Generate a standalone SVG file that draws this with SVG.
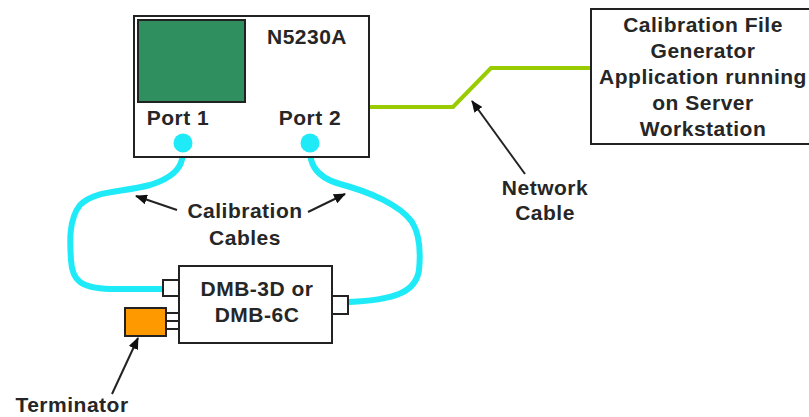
<svg xmlns="http://www.w3.org/2000/svg" width="809" height="417" viewBox="0 0 809 417">
<style>
.box{fill:#fff;stroke:#222;stroke-width:2}
.t{font-family:"Liberation Sans",Arial,sans-serif;font-weight:bold;font-size:21px;fill:#262626;text-anchor:middle;letter-spacing:0.5px}
.cyan{fill:none;stroke:#1eeaf8;stroke-width:6;stroke-linecap:round;stroke-linejoin:round}
.net{fill:none;stroke:#99cc00;stroke-width:4}
.arr{fill:none;stroke:#222;stroke-width:2;marker-end:url(#ah)}
</style>
<defs>
<marker id="ah" markerWidth="12" markerHeight="10" refX="11" refY="5" orient="auto" markerUnits="userSpaceOnUse">
<path d="M0,0 L12,5 L0,10 Z" fill="#111"/>
</marker>
</defs>
<g id="connectors">
<path class="net" d="M370,107 L453,107 L491,68 L592,68"/>
<path class="cyan" d="M183,145 C184,160 182,175 150,185 C120,193 95,190 80,205 C68,220 70,245 71,260 C72,280 80,288 110,289 L164,289"/>
<path class="cyan" d="M310,145 C309,160 312,176 340,184 C370,192 400,205 412,222 C422,238 420,260 419,270 C416,292 395,300 349,302"/>
<path class="arr" d="M525,174 L472,101"/>
<path class="arr" d="M177,210 L136,196"/>
<path class="arr" d="M308,212 L345,194"/>
<path class="arr" d="M112,394 L138,338"/>
</g>
<g id="n5230a">
<rect class="box" x="134" y="16" width="235" height="141"/>
<rect x="138" y="20" width="107" height="82" fill="#2f8f5f" stroke="#222" stroke-width="2"/>
<text class="t" x="307" y="44">N5230A</text>
<text class="t" x="178" y="125">Port 1</text>
<text class="t" x="310" y="125">Port 2</text>
<circle cx="183" cy="143" r="9.5" fill="#1eeaf8"/>
<circle cx="310" cy="143" r="9.5" fill="#1eeaf8"/>
</g>
<g id="server">
<rect class="box" x="591" y="9" width="225" height="135"/>
<text class="t" x="703" y="32">Calibration File</text>
<text class="t" x="703" y="58">Generator</text>
<text class="t" x="703" y="84">Application running</text>
<text class="t" x="703" y="110">on Server</text>
<text class="t" x="703" y="136">Workstation</text>
</g>
<g id="dmb">
<rect class="box" x="163" y="280" width="16" height="16"/>
<rect class="box" x="163" y="313" width="16" height="8"/>
<rect class="box" x="163" y="321" width="16" height="8"/>
<rect class="box" x="332" y="296" width="16" height="18"/>
<rect class="box" x="179" y="266" width="153" height="77"/>
<text class="t" x="257" y="296">DMB-3D or</text>
<text class="t" x="257" y="322">DMB-6C</text>
</g>
<g id="terminator">
<rect x="125" y="308" width="41" height="28" fill="#ff9900" stroke="#222" stroke-width="2"/>
</g>
<g id="labels">
<text class="t" x="545" y="195">Network</text>
<text class="t" x="545" y="220">Cable</text>
<text class="t" x="245" y="218">Calibration</text>
<text class="t" x="245" y="245">Cables</text>
<text class="t" x="72" y="412">Terminator</text>
</g>
</svg>
